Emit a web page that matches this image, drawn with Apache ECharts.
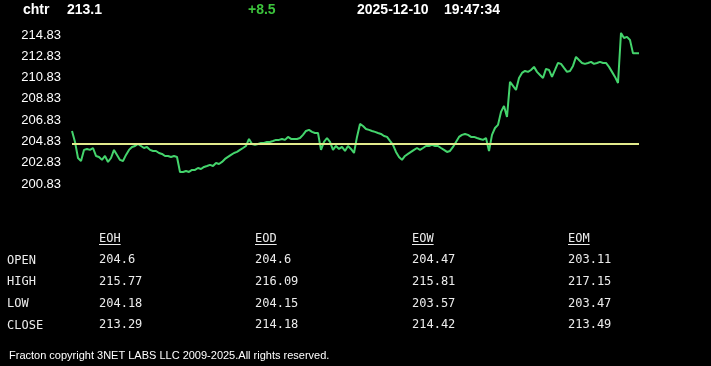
<!DOCTYPE html>
<html>
<head>
<meta charset="utf-8">
<script src="https://cdn.jsdelivr.net/npm/echarts@6/dist/echarts.min.js"></script>
<style>
html,body{margin:0;padding:0;background:#000;}
#chart{width:711px;height:366px;}
</style>
</head>
<body>
<div id="chart"></div>
<script>
// ---- data ----
const symbol = 'chtr';
const lastPrice = '213.1';
const change = '+8.5';
const dateText = '2025-12-10';
const timeText = '19:47:34';
const openLevel = 204.6;

const prices = [
205.81,204.78,203.27,202.99,204.03,204.12,204.03,204.21,203.46,203.37,
203.09,203.46,202.90,203.27,204.03,203.56,203.09,202.99,203.56,204.03,
204.31,204.40,204.59,204.40,204.21,204.31,204.03,203.93,203.93,203.74,
203.65,203.46,203.46,203.37,203.46,203.37,201.96,201.96,202.05,201.96,
202.15,202.15,202.33,202.24,202.43,202.52,202.62,202.52,202.80,202.71,
202.90,203.18,203.37,203.56,203.74,203.84,204.03,204.21,204.40,205.06,
204.59,204.50,204.59,204.68,204.68,204.78,204.78,204.87,204.97,204.97,
205.06,204.97,205.25,205.06,205.06,205.06,205.15,205.44,205.81,205.91,
205.72,205.62,205.62,204.03,204.78,205.15,204.78,204.03,204.40,204.12,
204.31,203.93,204.40,204.12,203.74,205.25,206.47,206.28,206.00,205.91,
205.81,205.72,205.62,205.53,205.34,205.25,204.87,204.50,203.84,203.37,
203.09,203.46,203.65,203.84,204.03,204.21,204.03,204.21,204.40,204.40,
204.50,204.40,204.40,204.21,204.03,203.84,203.93,204.31,204.78,205.25,
205.44,205.53,205.44,205.25,205.25,205.15,205.06,204.97,205.15,203.93,
205.44,206.09,206.38,207.60,208.16,207.13,210.42,210.04,209.66,210.79,
211.26,211.45,211.36,211.54,211.83,211.36,211.07,210.79,211.64,211.54,
210.89,211.54,212.20,212.11,211.73,211.36,211.45,211.92,212.77,212.48,
212.20,212.11,212.20,212.30,212.11,212.20,212.30,212.20,212.20,211.83,
211.36,210.89,210.32,215.02,214.55,214.65,214.36,213.10,213.10,213.10
];
const categories = prices.map((_, i) => i);

const yTicks = [200.83, 202.83, 204.83, 206.83, 208.83, 210.83, 212.83, 214.83];

const rowLabels = ['OPEN', 'HIGH', 'LOW', 'CLOSE'];
const colHeaders = ['EOH', 'EOD', 'EOW', 'EOM'];
const eohValues = ['204.6', '215.77', '204.18', '213.29'];
const eodValues = ['204.6', '216.09', '204.15', '214.18'];
const eowValues = ['204.47', '215.81', '203.57', '214.42'];
const eomValues = ['203.11', '217.15', '203.47', '213.49'];
const columns = [eohValues, eodValues, eowValues, eomValues];
const footerText = 'Fracton copyright 3NET LABS LLC 2009-2025.All rights reserved.';

// ---- layout ----
const colX = [99, 255, 412, 568];
const rowY = [260.5, 282, 304, 325.5];
const headerY = 239;
const mono = '12px "DejaVu Sans Mono", monospace';
const tableColor = '#ececec';

const graphics = [];
function txt(x, y, text, font, fill) {
  graphics.push({type: 'text', x: x, y: y, silent: true,
    style: {text: text, font: font, fill: fill, verticalAlign: 'middle', align: 'left'}});
}
const headFont = 'bold 14px "Liberation Sans", Arial, sans-serif';
txt(23, 10.5, symbol, headFont, '#fff');
txt(67, 10.5, lastPrice, headFont, '#fff');
txt(248, 10.5, change, headFont, '#3cc43c');
txt(357, 10.5, dateText, headFont, '#fff');
txt(444, 10.5, timeText, headFont, '#fff');

rowLabels.forEach((r, i) => txt(7, rowY[i], r, mono, tableColor));
colHeaders.forEach((h, j) => {
  txt(colX[j], headerY, h, mono, tableColor);
  graphics.push({type: 'line', silent: true,
    shape: {x1: colX[j], y1: 244.5, x2: colX[j] + h.length * 7.22, y2: 244.5},
    style: {stroke: tableColor, lineWidth: 1}});
  columns[j].forEach((v, i) => txt(colX[j], rowY[i] - 0.5, v, mono, tableColor));
});
txt(9, 355.5, footerText, '11px "Liberation Sans", Arial, sans-serif', '#fff');

const chart = echarts.init(document.getElementById('chart'), null, {renderer: 'canvas'});
chart.setOption({
  backgroundColor: '#000',
  animation: false,
  grid: {left: 72, right: 72, top: 22.5, bottom: 173.2, containLabel: false},
  xAxis: {
    type: 'category', data: categories, boundaryGap: false, show: false
  },
  yAxis: {
    type: 'value', min: 200, max: 216,
    axisLine: {show: false}, axisTick: {show: false}, splitLine: {show: false},
    axisLabel: {
      customValues: yTicks, color: '#fff', margin: 11,
      fontFamily: '"Liberation Sans", Arial, sans-serif', fontSize: 13,
      lineHeight: 15, padding: [2, 0, 0, 0],
      formatter: v => v.toFixed(2)
    }
  },
  series: [{
    type: 'line', data: prices, symbol: 'none', silent: true,
    lineStyle: {color: '#44d46c', width: 2},
    markLine: {
      silent: true, symbol: 'none', label: {show: false},
      lineStyle: {color: '#e2ea8c', width: 2, type: 'solid'},
      data: [{yAxis: openLevel}]
    }
  }],
  graphic: graphics
});
</script>
</body>
</html>
